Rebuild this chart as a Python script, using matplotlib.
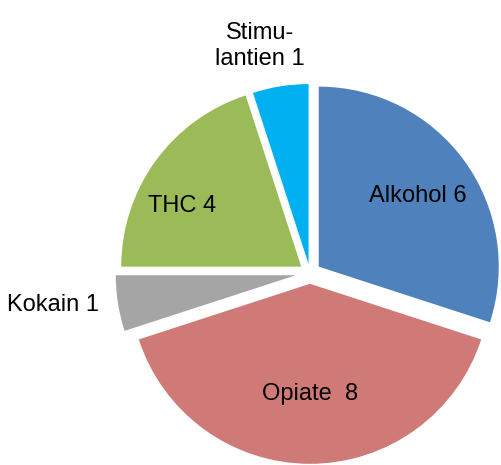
import matplotlib.pyplot as plt

plt.rcParams['font.family'] = ['Liberation Sans', 'DejaVu Sans']

# Daten
labels = ['Alkohol 6', 'Opiate  8', 'Kokain 1', 'THC 4', 'Stimu-\nlantien 1']
values = [6, 8, 1, 4, 1]
colors = ['#4F81BD', '#CF7A77', '#A5A5A5', '#9BBB59', '#00B0F0']
explode = [0.06, 0.06, 0.08, 0.06, 0.05]

# Label-Positionen (Datenkoordinaten, Radius = 1)
label_pos = [(0.60, 0.43), (0.0, -0.67), (-1.43, -0.18), (-0.71, 0.37), (-0.28, 1.26)]

fig = plt.figure(figsize=(5.01, 4.65), dpi=100)
ax = fig.add_axes([0, 0, 1, 1])
ax.pie(values, colors=colors, explode=explode, startangle=90, counterclock=False,
       radius=1, wedgeprops={'linewidth': 0})
for (x, y), lab in zip(label_pos, labels):
    ax.text(x, y, lab, ha='center', va='center', fontsize=17, color='black',
            linespacing=1.2)
ax.set_xlim(-310 / 180, (501 - 310) / 180)
ax.set_ylim(-(465 - 273) / 180, 273 / 180)
ax.set_aspect('auto')
ax.axis('off')
plt.savefig('out.png', dpi=100)
